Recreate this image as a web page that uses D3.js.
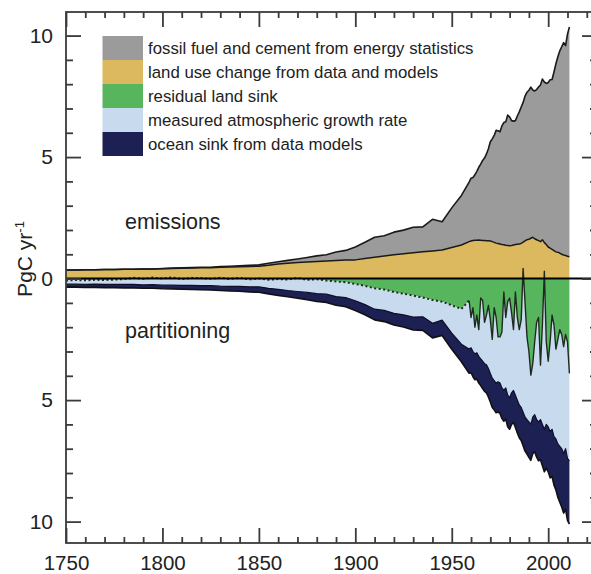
<!DOCTYPE html>
<html>
<head>
<meta charset="utf-8">
<script src="https://cdn.jsdelivr.net/npm/d3@7"></script>
<style>
  html, body { margin: 0; padding: 0; background: #ffffff; }
  svg { display: block; font-family: "Liberation Sans", Arial, Helvetica, sans-serif; }
</style>
</head>
<body>
<svg id="chart" width="591" height="574"></svg>
<script>
// ---------------- data (PgC per year) ----------------
const years = [1750,1755,1760,1765,1770,1775,1780,1785,1790,1795,
  1800,1805,1810,1815,1820,1825,1830,1835,1840,1845,
  1850,1855,1860,1865,1870,1875,1880,1885,1890,1895,
  1900,1905,1910,1915,1920,1925,1930,1935,1940,1945,1950,1955,
  1959,1960,1961,1962,1963,1964,1965,1966,1967,1968,1969,1970,
  1971,1972,1973,1974,1975,1976,1977,1978,1979,1980,
  1981,1982,1983,1984,1985,1986,1987,1988,1989,1990,
  1991,1992,1993,1994,1995,1996,1997,1998,1999,2000,
  2001,2002,2003,2004,2005,2006,2007,2008,2009,2010,2011];

const fossilFuel = [0.003,0.003,0.003,0.003,0.004,0.004,0.005,0.005,0.006,0.007,
  0.008,0.009,0.010,0.013,0.014,0.017,0.024,0.029,0.033,0.045,
  0.054,0.080,0.091,0.12,0.147,0.188,0.236,0.264,0.356,0.400,
  0.534,0.663,0.819,0.836,0.932,0.975,1.053,1.029,1.299,1.160,1.630,2.043,
  2.45,2.58,2.59,2.69,2.83,2.99,3.13,3.29,3.39,3.57,3.78,4.08,
  4.23,4.40,4.64,4.64,4.62,4.88,5.03,5.08,5.37,5.30,
  5.14,5.10,5.10,5.28,5.44,5.61,5.75,5.96,6.07,6.13,
  6.22,6.06,6.08,6.18,6.32,6.45,6.61,6.61,6.63,6.77,
  6.93,6.99,7.35,7.74,8.05,8.32,8.54,8.74,8.64,9.14,9.45];

const landUseChange = [0.35,0.35,0.36,0.36,0.37,0.37,0.38,0.38,0.39,0.39,
  0.41,0.42,0.43,0.44,0.45,0.45,0.47,0.48,0.49,0.50,
  0.51,0.55,0.60,0.63,0.66,0.68,0.70,0.72,0.74,0.76,
  0.77,0.83,0.88,0.93,0.98,1.02,1.06,1.10,1.14,1.18,1.28,1.38,
  1.52,1.55,1.57,1.58,1.58,1.59,1.58,1.57,1.57,1.56,1.56,1.55,
  1.52,1.49,1.46,1.44,1.42,1.40,1.39,1.37,1.36,1.35,
  1.36,1.38,1.40,1.41,1.42,1.45,1.50,1.55,1.60,1.62,
  1.66,1.70,1.64,1.60,1.56,1.52,1.60,1.48,1.40,1.30,
  1.25,1.20,1.15,1.10,1.08,1.05,1.00,0.97,0.95,0.92,0.90];

const residualLandSink = [0.08,0.06,0.07,0.05,0.06,0.04,0.02,-0.03,0.01,-0.04,
  0.00,-0.05,0.02,-0.03,-0.02,0.01,-0.04,0.02,-0.03,0.03,
  0.00,0.05,0.02,0.04,-0.03,0.05,0.03,0.08,0.12,0.15,
  0.22,0.30,0.40,0.45,0.55,0.62,0.70,0.78,0.88,0.95,1.10,1.25,
  0.9,1.6,1.2,2.0,1.5,2.1,0.8,0.9,1.8,1.5,1.1,1.7,
  2.5,1.2,1.6,2.4,2.4,2.2,0.55,1.6,0.95,0.8,
  1.4,2.1,0.55,1.6,2.1,1.7,-0.42,1.0,2.4,3.0,
  3.97,3.5,2.6,1.8,1.6,3.56,1.9,-0.3,2.6,3.4,
  2.6,1.5,1.9,2.9,2.5,2.1,2.3,2.8,2.3,2.6,3.9];

const atmosphericGrowth = [0.15,0.17,0.17,0.18,0.18,0.20,0.22,0.27,0.25,0.29,
  0.27,0.32,0.26,0.31,0.31,0.28,0.35,0.30,0.35,0.31,
  0.34,0.35,0.42,0.45,0.56,0.52,0.59,0.56,0.62,0.63,
  0.69,0.77,0.86,0.86,0.88,0.87,0.88,0.79,0.96,0.76,1.14,1.45,
  2.0,1.25,1.8,1.1,1.55,1.1,2.5,2.5,1.7,2.05,2.6,2.2,
  1.6,3.0,2.7,1.85,1.9,2.3,4.05,2.9,3.85,4.1,
  3.3,2.5,4.25,3.4,3.1,3.6,5.92,4.7,3.4,2.9,
  2.03,2.2,3.0,4.0,4.3,2.24,4.1,6.5,3.4,2.7,
  3.7,4.7,4.6,3.7,4.3,4.8,4.7,4.4,4.7,4.8,3.6];

const oceanSink = [0.12,0.12,0.12,0.13,0.13,0.13,0.14,0.14,0.14,0.15,
  0.15,0.16,0.16,0.17,0.17,0.18,0.18,0.19,0.20,0.21,
  0.22,0.23,0.25,0.26,0.28,0.30,0.32,0.34,0.36,0.38,
  0.40,0.42,0.44,0.46,0.48,0.50,0.53,0.56,0.60,0.63,0.67,0.72,
  1.00,1.02,1.04,1.06,1.08,1.10,1.10,1.12,1.14,1.15,1.17,1.18,
  1.20,1.20,1.22,1.24,1.25,1.25,1.27,1.28,1.30,1.30,
  1.30,1.32,1.33,1.35,1.35,1.36,1.38,1.40,1.42,1.45,
  1.48,1.50,1.52,1.55,1.60,1.65,1.70,1.75,1.80,1.85,
  1.90,1.95,2.00,2.10,2.20,2.30,2.40,2.45,2.50,2.55,2.60];

const legendLabels = [
  "fossil fuel and cement from energy statistics",
  "land use change from data and models",
  "residual land sink",
  "measured atmospheric growth rate",
  "ocean sink from data models"
];
const legendColors = ["#9b9b9b", "#dcb95f", "#57b65d", "#c8dbee", "#1c2052"];

const xMajorTicks = [1750, 1800, 1850, 1900, 1950, 2000];
const yMajorTicks = [-10, -5, 0, 5, 10];

// ---------------- layout ----------------
const svg = d3.select("#chart");
const pL = 66, pR = 597, pT = 12, pB = 543;

const x = d3.scaleLinear().domain([1750, 2025.3]).range([pL, pR]);
const y = d3.scaleLinear().domain([-10.88, 10.97]).range([pB, pT]);

const rows = years.map((yr, i) => {
  const luc = landUseChange[i], ff = fossilFuel[i];
  const land = residualLandSink[i], atm = atmosphericGrowth[i], oce = oceanSink[i];
  return {
    year: yr,
    luc: luc,
    total: luc + ff,
    s1: -land,
    s2: -(land + atm),
    s3: -(land + atm + oce)
  };
});

svg.append("defs").append("clipPath").attr("id", "plotclip")
  .append("rect").attr("x", pL).attr("y", pT).attr("width", pR - pL).attr("height", pB - pT);

const g = svg.append("g").attr("clip-path", "url(#plotclip)");

function band(lo, hi) {
  return d3.area().x(d => x(d.year)).y0(d => y(lo(d))).y1(d => y(hi(d)));
}
function edge(fn) {
  return d3.line().x(d => x(d.year)).y(d => y(fn(d)));
}

// fills
g.append("path").datum(rows).attr("fill", legendColors[0])
  .attr("d", band(d => d.luc, d => d.total));
g.append("path").datum(rows).attr("fill", legendColors[1])
  .attr("d", band(d => 0, d => d.luc));
g.append("path").datum(rows).attr("fill", legendColors[2])
  .attr("d", band(d => 0, d => d.s1));
g.append("path").datum(rows).attr("fill", legendColors[3])
  .attr("d", band(d => d.s1, d => d.s2));
g.append("path").datum(rows).attr("fill", legendColors[4])
  .attr("d", band(d => d.s2, d => d.s3));

// boundary lines
const lineStyle = [
  [d => d.total, 1.6, "#1a1a1a"],
  [d => d.luc, 1.5, "#1a1a1a"],
  [d => d.s2, 1.2, "#0d0f2a"],
  [d => d.s3, 1.6, "#111111"]
];
lineStyle.forEach(([fn, w, c]) => {
  g.append("path").datum(rows).attr("fill", "none").attr("stroke", c)
    .attr("stroke-width", w).attr("stroke-linejoin", "round").attr("d", edge(fn));
});
// land-sink boundary: dotted in the early, sparse part; solid in the annual part
g.append("path").datum(rows.filter(d => d.year <= 1959)).attr("fill", "none")
  .attr("stroke", "#1f2a1f").attr("stroke-width", 2).attr("stroke-dasharray", "2,2.5")
  .attr("d", edge(d => d.s1));
g.append("path").datum(rows.filter(d => d.year >= 1959)).attr("fill", "none")
  .attr("stroke", "#1f2a1f").attr("stroke-width", 1.4).attr("stroke-linejoin", "round")
  .attr("d", edge(d => d.s1));

// zero line
svg.append("line").attr("x1", pL).attr("x2", 591).attr("y1", y(0)).attr("y2", y(0))
  .attr("stroke", "#000").attr("stroke-width", 2);

// ---------------- axes ----------------
const axisColor = "#3f3a3a";
const yMinor = d3.range(-10, 11).filter(v => v % 5 !== 0);
const xMinor = d3.range(1760, 2030, 10).filter(v => v % 50 !== 0);

function styleAxis(sel) {
  sel.select(".domain").remove();
  sel.selectAll(".tick line").attr("stroke", axisColor).attr("stroke-width", 1.8);
  sel.selectAll("text").attr("fill", "#222").style("font-size", "21px")
    .style("font-family", "'Liberation Sans', Arial, Helvetica, sans-serif");
}

svg.append("g").attr("transform", `translate(${pL},0)`)
  .call(d3.axisLeft(y).tickValues(yMajorTicks).tickSize(-15).tickPadding(13)
    .tickFormat(d => Math.abs(d))).call(styleAxis);
svg.append("g").attr("transform", `translate(${pL},0)`)
  .call(d3.axisLeft(y).tickValues(yMinor).tickSize(-7).tickFormat("")).call(styleAxis);
svg.append("g").attr("transform", `translate(${pR},0)`)
  .call(d3.axisRight(y).tickValues(yMajorTicks).tickSize(-15).tickFormat("")).call(styleAxis);
svg.append("g").attr("transform", `translate(${pR},0)`)
  .call(d3.axisRight(y).tickValues(yMinor).tickSize(-7).tickFormat("")).call(styleAxis);

const xAxisG = svg.append("g").attr("transform", `translate(0,${pB})`)
  .call(d3.axisBottom(x).tickValues(xMajorTicks).tickSize(-15).tickPadding(12)
    .tickFormat(d3.format("d"))).call(styleAxis);
xAxisG.selectAll("text").style("font-size", "20.5px");
svg.append("g").attr("transform", `translate(0,${pB})`)
  .call(d3.axisBottom(x).tickValues(xMinor).tickSize(-6).tickFormat("")).call(styleAxis);
svg.append("g").attr("transform", `translate(0,${pT})`)
  .call(d3.axisTop(x).tickValues(xMajorTicks).tickSize(-15).tickFormat("")).call(styleAxis);
svg.append("g").attr("transform", `translate(0,${pT})`)
  .call(d3.axisTop(x).tickValues(xMinor).tickSize(-6).tickFormat("")).call(styleAxis);

// frame
svg.append("rect").attr("x", pL).attr("y", pT).attr("width", pR - pL)
  .attr("height", pB - pT).attr("fill", "none").attr("stroke", axisColor).attr("stroke-width", 1.8);

// ---------------- texts ----------------
const yt = svg.append("text").attr("transform", "translate(32,259) rotate(-90)")
  .attr("text-anchor", "middle").attr("fill", "#222").style("font-size", "21px");
yt.append("tspan").text("PgC yr");
yt.append("tspan").attr("dy", -8).style("font-size", "13px").text("-1");

svg.append("text").attr("x", 125).attr("y", 229).attr("fill", "#222")
  .style("font-size", "21.5px").text("emissions");
svg.append("text").attr("x", 125).attr("y", 338).attr("fill", "#222")
  .style("font-size", "21.5px").text("partitioning");

// legend
const leg = svg.append("g");
legendLabels.forEach((lab, i) => {
  leg.append("rect").attr("x", 102.5).attr("y", 36 + i * 24).attr("width", 40.5).attr("height", 24)
    .attr("fill", legendColors[i]);
  leg.append("text").attr("x", 148).attr("y", 48 + i * 24).attr("dy", "0.35em")
    .attr("fill", "#222").style("font-size", "16.8px").text(lab);
});
</script>
</body>
</html>
